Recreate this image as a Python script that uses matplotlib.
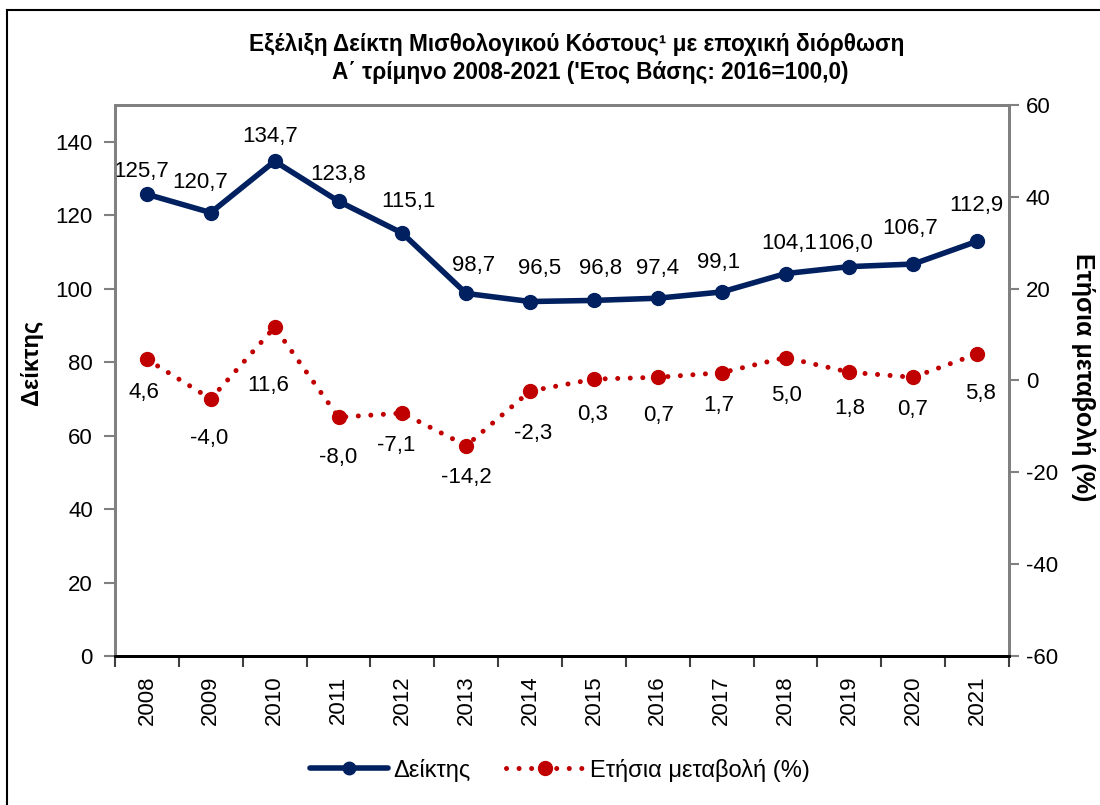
import matplotlib
matplotlib.use('Agg')
import matplotlib.pyplot as plt
import numpy as np
from matplotlib.lines import Line2D

# ---- data ----
years = ['2008', '2009', '2010', '2011', '2012', '2013', '2014',
         '2015', '2016', '2017', '2018', '2019', '2020', '2021']
index_values = [125.7, 120.7, 134.7, 123.8, 115.1, 98.7, 96.5,
                96.8, 97.4, 99.1, 104.1, 106.0, 106.7, 112.9]
annual_change = [4.6, -4.0, 11.6, -8.0, -7.1, -14.2, -2.3,
                 0.3, 0.7, 1.7, 5.0, 1.8, 0.7, 5.8]
left_ticks = [0, 20, 40, 60, 80, 100, 120, 140]
right_ticks = [-60, -40, -20, 0, 20, 40, 60]

title_line1 = 'Εξέλιξη Δείκτη Μισθολογικού Κόστους¹ με εποχική διόρθωση'
title_line2 = "Α΄ τρίμηνο 2008-2021 ('Ετος Βάσης: 2016=100,0)"
left_label = 'Δείκτης'
right_label = 'Ετήσια μεταβολή (%)'
legend_labels = ['Δείκτης', 'Ετήσια μεταβολή (%)']

# ---- style: label offsets in pixels (dx, dy) ----
blue_off = [(-6, 23), (-11, 30), (-5, 25), (0, 27), (6, 32), (7, 28), (9, 33),
            (7, 32), (0, 30), (-3, 29), (4, 30), (-4, 23), (-3, 36), (-1, 36)]
red_off = [(-3, -33), (-2, -40), (-6, -58), (0, -40), (-6, -32), (0, -32), (3, -42),
           (-1, -35), (1, -38), (-3, -33), (1, -38), (0, -36), (-1, -32), (3, -40)]

plt.rcParams['font.family'] = ['Liberation Sans', 'DejaVu Sans']
plt.rcParams['axes.unicode_minus'] = False

NAVY = '#002060'
RED = '#C00000'
GREY = '#808080'
FS = 16

W, H = 1100, 805
fig = plt.figure(figsize=(W / 100, H / 100), dpi=100)
L, R, T, B = 115, 1009, 105, 656
ax = fig.add_axes([L / W, 1 - B / H, (R - L) / W, (B - T) / H])
ax2 = ax.twinx()

x = np.arange(len(years))

ax.plot(x, index_values, color=NAVY, lw=4, marker='o', ms=10,
        solid_capstyle='round', label=legend_labels[0], zorder=3)
ax2.plot(x, annual_change, color=RED, lw=3.6, marker='o', ms=10,
         linestyle=(0, (0.01, 2.5)), dash_capstyle='round',
         label=legend_labels[1], zorder=3)

for i, v in enumerate(index_values):
    ax.annotate(f'{v:.1f}'.replace('.', ','), (x[i], v),
                xytext=blue_off[i], textcoords='offset pixels',
                ha='center', va='center', fontsize=FS, color='black')
for i, v in enumerate(annual_change):
    ax2.annotate(f'{v:.1f}'.replace('.', ','), (x[i], v),
                 xytext=red_off[i], textcoords='offset pixels',
                 ha='center', va='center', fontsize=FS, color='black')

ax.set_xlim(-0.5, len(years) - 0.5)
ax.set_ylim(0, 150)
ax2.set_ylim(-60, 60)
ax.set_yticks(left_ticks)
ax.set_yticklabels([str(t) for t in left_ticks])
ax2.set_yticks(right_ticks)
ax2.set_yticklabels([str(t) for t in right_ticks])

# x: boundary ticks (major) and centered labels (minor)
ax.set_xticks(np.arange(-0.5, len(years)))
ax.set_xticklabels([])
ax.set_xticks(x, minor=True)
ax.set_xticklabels(years, minor=True, rotation=90, fontsize=FS)
ax.tick_params(axis='x', which='major', direction='out', length=8, width=1.5, color='#404040')
ax.tick_params(axis='x', which='minor', length=0, pad=14)

ax.tick_params(axis='y', direction='out', length=8, width=1.5, color=GREY,
               labelsize=FS, pad=8)
ax2.tick_params(axis='y', direction='out', length=7, width=1.5, color=GREY,
                labelsize=FS, pad=5)

for a in (ax, ax2):
    for s in ('left', 'right', 'top'):
        a.spines[s].set_color(GREY)
        a.spines[s].set_linewidth(2)
    a.spines['bottom'].set_color('black')
    a.spines['bottom'].set_linewidth(2)

# titles and axis labels
fig.text(577 / W, 1 - 45 / H, title_line1, ha='center', va='center',
         fontsize=16.3, fontweight='bold')
fig.text(590 / W, 1 - 73 / H, title_line2, ha='center', va='center',
         fontsize=16.3, fontweight='bold')
fig.text(32 / W, 1 - 362 / H, left_label, ha='center', va='center',
         rotation=90, fontsize=17, fontweight='bold')
fig.text(1083 / W, 1 - 377 / H, right_label, ha='center', va='center',
         rotation=-90, fontsize=18, fontweight='bold')

# legend
h1 = Line2D([], [], color=NAVY, lw=4, marker='o', ms=9, solid_capstyle='round')
h2 = Line2D([], [], color=RED, lw=3.6, marker='o', ms=10,
            linestyle=(0, (0.01, 2.5)), dash_capstyle='round')
fig.legend([h1, h2], legend_labels, loc='center', bbox_to_anchor=(0.509, 1 - 770 / H),
           ncol=2, frameon=False, fontsize=17, numpoints=1, handlelength=3.3,
           handletextpad=0.25, columnspacing=1.5)

# figure border (top and left)
fig.add_artist(Line2D([7 / W, 7 / W], [0, 1 - 10 / H], color='black', lw=1.5,
                      transform=fig.transFigure))
fig.add_artist(Line2D([7 / W, 1], [1 - 10 / H, 1 - 10 / H], color='black', lw=1.5,
                      transform=fig.transFigure))

fig.savefig('out.png', dpi=100)
